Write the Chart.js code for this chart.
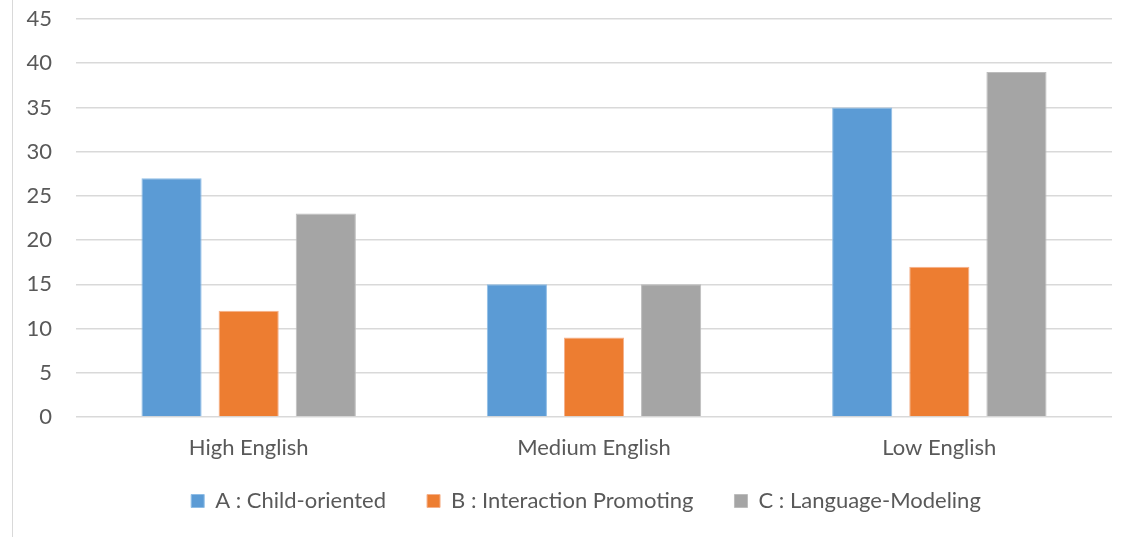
<!DOCTYPE html>
<html><head><meta charset="utf-8">
<script src="https://cdn.jsdelivr.net/npm/chart.js@4/dist/chart.umd.min.js"></script>
<style>
html,body{margin:0;padding:0;background:#fff;}
#wrap{position:relative;width:1141px;height:537px;}
#frame{position:absolute;left:12px;top:0;width:1px;height:537px;background:#d9d9d9;}
canvas{position:absolute;left:0;top:0;}
</style></head><body>
<div id="wrap"><div id="frame"></div><canvas id="c" width="1141" height="537"></canvas></div>
<script>
const categories = ["High English", "Medium English", "Low English"];
const seriesA = [27, 15, 35];
const seriesB = [12, 9, 17];
const seriesC = [23, 15, 39];
const seriesNames = ["A : Child-oriented", "B : Interaction Promoting", "C : Language-Modeling"];
const yTicks = [0, 5, 10, 15, 20, 25, 30, 35, 40, 45];

const FONT = "Lato, 'Open Sans', sans-serif";
const shiftLegend = {
  id: 'shiftLegend',
  afterLayout(chart) {
    const L = chart.legend;
    if (L) { L.left += 30; L.right += 30; L.top -= 13; L.bottom -= 13; }
  }
};
new Chart(document.getElementById('c'), {
  type: 'bar',
  plugins: [shiftLegend],
  data: {
    labels: categories,
    datasets: [
      {label: seriesNames[0], data: seriesA, backgroundColor: '#5B9BD5', borderColor: '#8fbde6', borderWidth: 1},
      {label: seriesNames[1], data: seriesB, backgroundColor: '#ED7D31', borderColor: '#f5b08a', borderWidth: 1},
      {label: seriesNames[2], data: seriesC, backgroundColor: '#A5A5A5', borderColor: '#bdbdbd', borderWidth: 1}
    ]
  },
  options: {
    responsive: false,
    animation: false,
    layout: {padding: {left: 0, right: 29, top: 19, bottom: 2}},
    datasets: {bar: {categoryPercentage: 0.67, barPercentage: 0.78}},
    plugins: {
      legend: {
        position: 'bottom',
        labels: {boxWidth: 13, boxHeight: 13, color: '#595959', font: {family: FONT, size: 22}, padding: 41}
      },
      tooltip: {enabled: false}
    },
    scales: {
      x: {
        grid: {display: false},
        border: {display: false},
        afterFit: (s) => { s.height = 45; },
        ticks: {color: '#595959', font: {family: FONT, size: 22}, padding: 10}
      },
      y: {
        min: 0, max: 45,
        afterBuildTicks: (s) => { s.ticks = yTicks.map(v => ({value: v})); },
        afterFit: (s) => { s.width = 76; s.paddingTop = 0; s.paddingBottom = 0; },
        grid: {color: '#d9d9d9', lineWidth: 1.5, drawTicks: false},
        border: {display: false},
        ticks: {color: '#595959', font: {family: FONT, size: 22}, padding: 24}
      }
    }
  }
});
</script>
</body></html>
